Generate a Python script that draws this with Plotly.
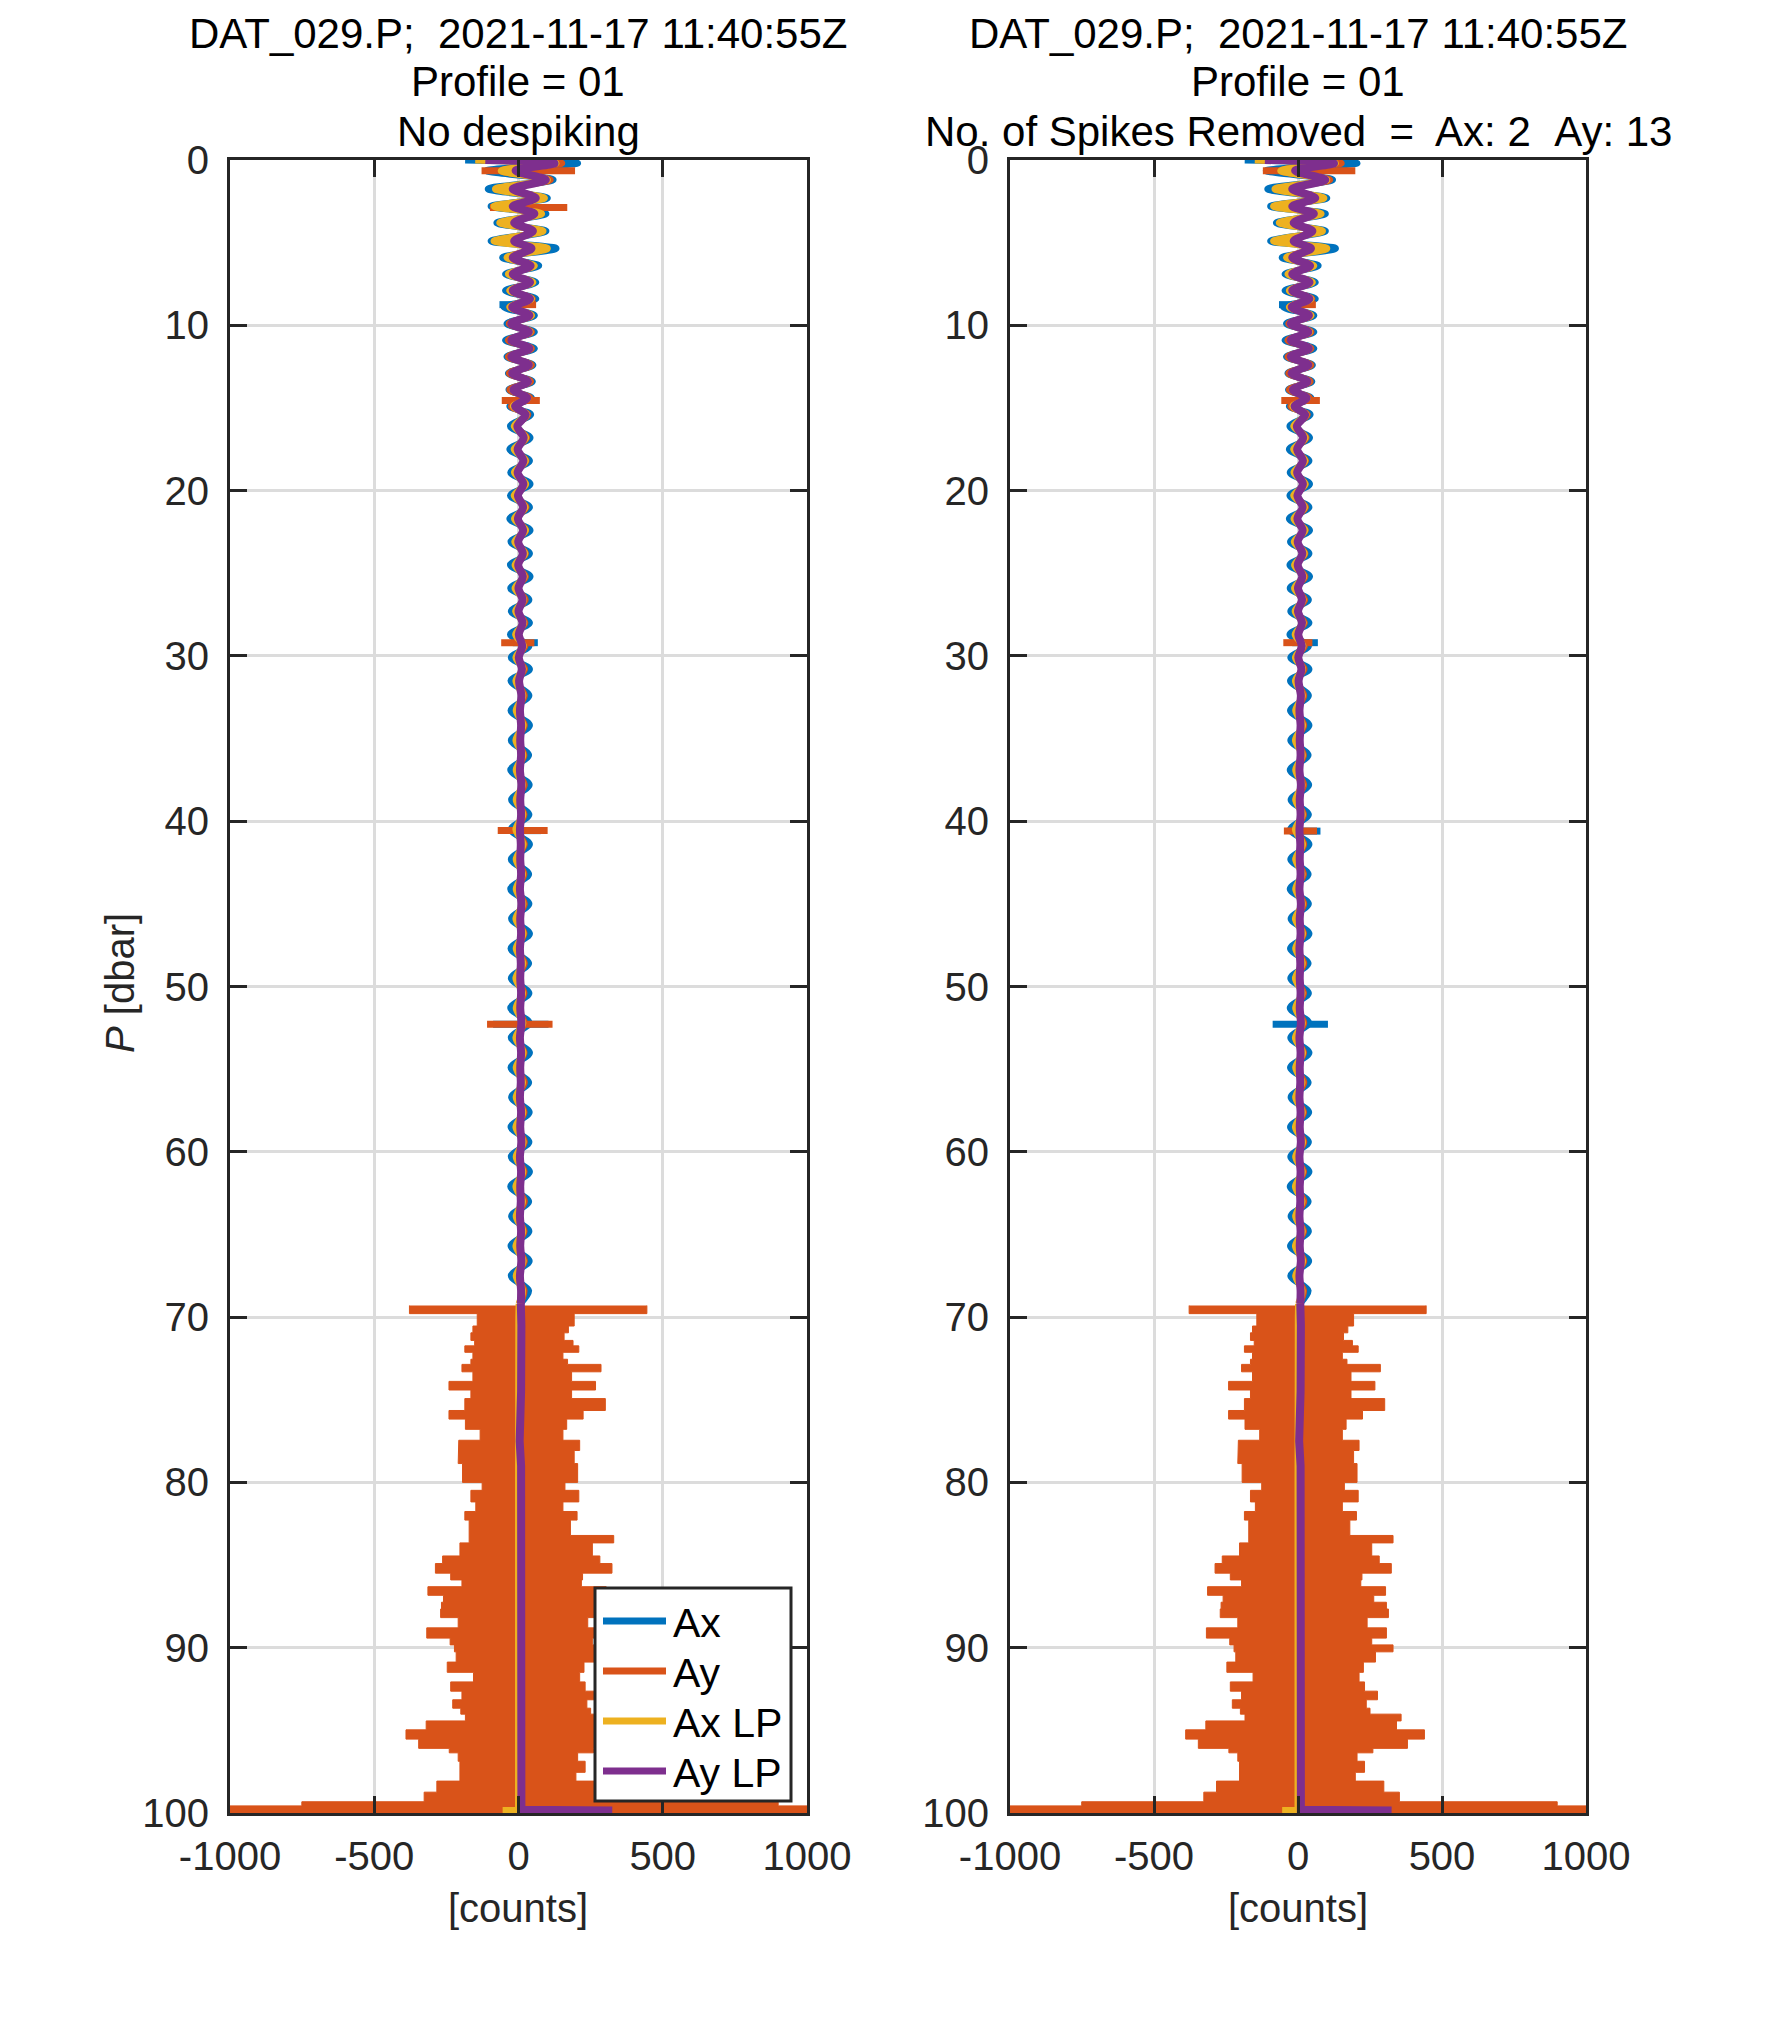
import plotly.graph_objects as go

# figure size: the page adds an 8 px body margin, so positions below are page pixels minus 8
W, H = 1756, 2026
OFF = 8

# ---- upper profile (0-69 dbar): shared sample pressures for the four series
p_up = [0.0, 0.2, 0.65, 1.2, 1.75, 2.3, 2.8, 3.25, 3.8, 4.3, 4.9, 5.35, 5.9, 6.4, 6.9, 7.4,
        7.9, 8.4, 8.9, 9.4, 9.9, 10.4, 10.9, 11.4, 11.9, 12.4, 12.9, 13.4, 13.9, 14.4, 14.9, 15.4,
        16.1, 16.8, 17.5, 18.2, 18.9, 19.6, 20.3, 21.0, 21.7, 22.4, 23.1, 23.8, 24.5, 25.2,
        25.9, 26.6, 27.3, 28.0, 28.7, 29.4, 30.1, 30.8, 31.5,
        32.4, 33.3, 34.2, 35.1, 36.0, 36.9, 37.8, 38.7, 39.6, 40.5, 41.4, 42.3, 43.2, 44.1,
        45.0, 45.9, 46.8, 47.7, 48.6, 49.5, 50.4, 51.3, 52.2, 53.1, 54.0, 54.9, 55.8, 56.7,
        57.6, 58.5, 59.4, 60.3, 61.2, 62.1, 63.0, 63.9, 64.8, 65.7, 66.6, 67.5, 68.4, 69.2]

ax_raw_up = [-185, 205, -110, 120, -105, 100, -95, 95, -75, 95, -95, 130, -55, 70, -45, 60,
             -45, 60, -50, 55, -40, 55, -45, 55, -40, 50, -35, 48, -33, 45, -30, 42,
             -28, 40, -30, 38, -27, 40, -28, 38, -30, 40, -26, 38, -28, 40, -27, 36, -25, 38,
             -28, 36, -25, 38, -26,
             36, -26, 38, -25, 35, -27, 37, -24, 36, -26, 38, -25, 35, -27, 36, -24, 38, -26,
             35, -25, 36, -27, 37, -25, 38, -26, 35, -24, 37, -26, 36, -25, 38, -27, 35, -24,
             36, -26, 37, -25, 35, 5]

ay_raw_up = [-130, 150, -60, 110, -50, 75, -45, 65, -40, 60, -40, 55, -35, 50, -30, 45,
             -30, 48, -30, 45, -32, 45, -35, 45, -35, 45, -32, 42, -30, 40, -25, 32,
             -12, 28, -12, 26, -11, 25, -10, 26, -10, 25, -10, 24, -9, 24, -8, 23, -8, 22,
             -8, 22, -7, 21, -7,
             20, -6, 20, -7, 19, -6, 20, -7, 19, -6, 20, -7, 19, -6, 20, -7, 19, -6,
             20, -7, 19, -6, 20, -7, 19, -6, 20, -7, 19, -6, 20, -7, 19, -6, 20, -7,
             19, -6, 20, -7, 19, 5]

ax_lp_up = [-150, 130, -60, 100, -80, 90, -85, 80, -65, 85, -85, 100, -40, 55, -35, 50,
            -30, 45, -30, 45, -25, 40, -25, 40, -25, 38, -22, 35, -20, 32, -18, 28,
            -15, 25, -15, 24, -14, 25, -15, 23, -14, 24, -13, 22, -12, 20, -12, 18, -10, 18,
            -10, 17, -9, 16, -9,
            15, -8, 16, -9, 15, -8, 14, -8, 15, -9, 16, -8, 14, -8, 15, -9, 16, -8,
            15, -9, 14, -8, 15, -9, 16, -8, 14, -8, 15, -9, 16, -8, 15, -9, 14, -8,
            15, -9, 16, -8, 14, 2]

ay_lp_up = [-115, 125, -10, 95, -20, 60, -20, 55, -15, 50, -15, 45, -20, 42, -20, 40,
            -20, 40, -22, 38, -25, 36, -25, 38, -25, 36, -22, 33, -18, 30, -12, 25,
            -4, 18, -3, 17, -3, 17, -2, 16, -2, 16, -1, 15, -1, 15, 0, 14, 0, 14,
            1, 13, 1, 12, 2,
            10, 5, 9, 6, 9, 5, 10, 6, 9, 5, 8, 6, 9, 5, 10, 6, 9, 5,
            8, 6, 9, 6, 10, 5, 9, 6, 8, 5, 9, 6, 10, 5, 9, 6, 8, 5,
            9, 6, 10, 5, 9, 8]

# ---- deep part (below 69 dbar)
p_ax_deep = [70.0, 85.0, 99.8]
ax_raw_deep = [0, 0, 0]
p_axlp_deep = [70.0, 80.0, 90.0, 99.85, 99.85]
ax_lp_deep = [1, 0, 0, 0, -55]
p_aylp_deep = [70.5, 74.5, 76.5, 77.5, 79.0, 85.0, 95.0, 99.8, 99.85]
ay_lp_deep = [10, 9, 3, 4, 9, 10, 10, 10, 325]

# Ay scatter below 69 dbar: pressure bands and the envelope of the trace in each band
ay_edges = [69.30, 69.79, 70.54, 70.95, 71.41, 71.74, 72.13, 72.55, 72.86, 73.31, 73.89,
            74.41, 74.93, 75.65, 76.17, 76.79, 77.45, 78.07, 78.86, 80.00, 80.48, 81.18,
            81.76, 82.28, 83.21, 83.66, 84.45, 84.91, 85.49, 85.90, 86.31, 86.83, 87.25,
            87.66, 88.18, 88.80, 89.42, 89.83, 90.25, 90.87, 91.49, 92.07, 92.63, 93.15,
            93.66, 94.02, 94.43, 94.97, 95.53, 96.09, 96.36, 96.87, 97.54, 98.07, 98.74,
            99.32, 99.57, 100.2]
ay_hi = [445, 193, 173, 158, 189, 209, 154, 170, 286, 184, 267, 184, 301, 224, 167, 154,
         212, 193, 205, 161, 209, 154, 203, 180, 330, 256, 282, 324, 222, 218, 304, 263,
         307, 314, 240, 307, 256, 330, 269, 227, 212, 231, 276, 237, 250, 358, 342, 439,
         380, 260, 205, 231, 199, 298, 352, 900, 1100]
ay_lo = [-378, -143, -158, -165, -152, -186, -158, -165, -196, -158, -241, -165, -186, -241,
         -184, -133, -207, -209, -194, -126, -165, -148, -186, -171, -171, -203, -263, -288,
         -235, -196, -314, -260, -267, -270, -209, -318, -237, -222, -216, -247, -156, -235,
         -196, -228, -200, -184, -320, -390, -346, -240, -209, -203, -203, -283, -327, -751,
         -1100]

# spikes: (pressure, min, max)
spikes_ax_left = [(8.75, -66, 30), (29.2, -20, 67), (40.57, -15, 78), (52.28, -88, 104)]
spikes_ay_left = [(0.65, -128, 196), (2.87, -99, 169), (8.75, -20, 61), (14.55, -58, 74),
                  (29.2, -60, 55), (40.57, -72, 101), (52.28, -109, 118)]
spikes_ax_right = [(8.75, -66, 30), (29.2, -20, 69), (40.6, -15, 78), (52.28, -88, 104)]
spikes_ay_right = [(0.65, -122, 199), (8.75, -20, 62), (14.55, -58, 76),
                   (29.2, -51, 50), (40.6, -49, 66)]

x_ticks = [-1000, -500, 0, 500, 1000]
x_ticktext = ['-1000', '-500', '0', '500', '1000']
y_ticks = [0, 10, 20, 30, 40, 50, 60, 70, 80, 90, 100]

titles_left = ['DAT_029.P;\u00a0 2021-11-17 11:40:55Z', 'Profile = 01', 'No despiking']
titles_right = ['DAT_029.P;\u00a0 2021-11-17 11:40:55Z', 'Profile = 01',
                'No. of Spikes Removed \u00a0=\u00a0 Ax: 2 \u00a0Ay: 13']

legend_names = ['Ax', 'Ay', 'Ax LP', 'Ay LP']

BLUE, ORANGE, YELLOW, PURPLE = '#0072bd', '#d95319', '#edb120', '#7e2f8e'
DARK = '#262626'
FONT = 'Liberation Sans, Arial, Helvetica, sans-serif'
LW = 7


def fx(px):
    return (px - OFF) / W


def fy(py):
    return 1 - (py - OFF) / H


def spike_xy(spikes):
    xs, ys = [], []
    for p, lo, hi in spikes:
        xs += [lo, hi, None]
        ys += [p, p, None]
    return xs, ys


def envelope():
    xs, ys = [], []
    for i in range(len(ay_hi)):
        xs += [ay_hi[i], ay_hi[i]]
        ys += [ay_edges[i], ay_edges[i + 1]]
    for i in reversed(range(len(ay_lo))):
        xs += [ay_lo[i], ay_lo[i]]
        ys += [ay_edges[i + 1], ay_edges[i]]
    return xs, ys


fig = go.Figure()


def line(x, y, color, xa, ya, width=LW, shape='linear'):
    fig.add_trace(go.Scatter(x=x, y=y, mode='lines', xaxis=xa, yaxis=ya,
                             line=dict(color=color, width=width, shape=shape,
                                       smoothing=0.8),
                             showlegend=False, hoverinfo='skip'))


panels = [
    ('x', 'y', spikes_ax_left, spikes_ay_left),
    ('x2', 'y2', spikes_ax_right, spikes_ay_right),
]
for xa, ya, sp_ax, sp_ay in panels:
    # Ax
    line(ax_raw_up, p_up, BLUE, xa, ya, shape='spline')
    line(ax_raw_deep, p_ax_deep, BLUE, xa, ya)
    sx, sy = spike_xy(sp_ax)
    line(sx, sy, BLUE, xa, ya)
    # Ay
    line(ay_raw_up, p_up, ORANGE, xa, ya, shape='spline')
    sx, sy = spike_xy(sp_ay)
    line(sx, sy, ORANGE, xa, ya)
    ex, ey = envelope()
    fig.add_trace(go.Scatter(x=ex, y=ey, mode='lines', fill='toself', fillcolor=ORANGE,
                             line=dict(color=ORANGE, width=1), xaxis=xa, yaxis=ya,
                             showlegend=False, hoverinfo='skip'))
    # Ax LP
    line(ax_lp_up, p_up, YELLOW, xa, ya, shape='spline')
    line([ax_lp_up[-1]] + ax_lp_deep, [p_up[-1]] + p_axlp_deep, YELLOW, xa, ya)
    # Ay LP
    line(ay_lp_up, p_up, PURPLE, xa, ya, width=LW + 1, shape='spline')
    line([ay_lp_up[-1]] + ay_lp_deep, [p_up[-1]] + p_aylp_deep, PURPLE, xa, ya, width=LW + 1)

axis_style = dict(
    showline=True, linecolor=DARK, linewidth=3, mirror='ticks',
    ticks='inside', ticklen=17, tickwidth=3, tickcolor=DARK,
    showgrid=True, gridcolor='#dcdcdc', gridwidth=3, zeroline=False,
    tickfont=dict(family=FONT, size=40, color=DARK), automargin=False,
)

ydom = [fy(1813), fy(160)]
fig.update_layout(
    xaxis=dict(domain=[fx(230), fx(807)], range=[-1000, 1000], tickvals=x_ticks,
               ticktext=x_ticktext, anchor='y', ticklabelstandoff=6, **axis_style),
    yaxis=dict(domain=ydom, range=[100, 0], tickvals=y_ticks, anchor='x',
               ticklabelstandoff=10, **axis_style),
    xaxis2=dict(domain=[fx(1010), fx(1586)], range=[-1000, 1000], tickvals=x_ticks,
                ticktext=x_ticktext, anchor='y2', ticklabelstandoff=6, **axis_style),
    yaxis2=dict(domain=ydom, range=[100, 0], tickvals=y_ticks, anchor='x2',
                ticklabelstandoff=10, **axis_style),
    width=W, height=H, autosize=False,
    margin=dict(l=0, r=0, t=0, b=0),
    paper_bgcolor='white', plot_bgcolor='white',
    font=dict(family=FONT, size=40, color='black'),
    showlegend=False,
)

ann = []
shapes = []
for cx, lines in [((230 + 807) / 2, titles_left), ((1010 + 1586) / 2, titles_right)]:
    for cy, txt in zip([34, 82, 132], lines):
        ann.append(dict(x=fx(cx), y=fy(cy), xref='paper', yref='paper', text=txt,
                        showarrow=False, xanchor='center', yanchor='middle',
                        font=dict(family=FONT, size=42, color='black')))
    ann.append(dict(x=fx(cx), y=fy(1908), xref='paper', yref='paper', text='[counts]',
                    showarrow=False, xanchor='center', yanchor='middle',
                    font=dict(family=FONT, size=40, color=DARK)))
ann.append(dict(x=fx(120), y=fy(983), xref='paper', yref='paper', text='<i>P</i> [dbar]',
                showarrow=False, textangle=-90, xanchor='center', yanchor='middle',
                font=dict(family=FONT, size=40, color=DARK)))

# legend box drawn in the left panel (lower right corner)
shapes.append(dict(type='rect', xref='paper', yref='paper', x0=fx(595), x1=fx(791),
                   y0=fy(1801), y1=fy(1588), fillcolor='white',
                   line=dict(color=DARK, width=3), layer='above'))
for cy, name, col in zip([1621, 1671, 1721, 1771], legend_names,
                         [BLUE, ORANGE, YELLOW, PURPLE]):
    shapes.append(dict(type='line', xref='paper', yref='paper', x0=fx(603), x1=fx(666),
                       y0=fy(cy), y1=fy(cy), line=dict(color=col, width=LW),
                       layer='above'))
    ann.append(dict(x=fx(671), y=fy(cy + 2), xref='paper', yref='paper', text=name,
                    showarrow=False, xanchor='left', yanchor='middle',
                    font=dict(family=FONT, size=41, color='black')))

fig.update_layout(annotations=ann, shapes=shapes)

fig.write_html("out.html")
